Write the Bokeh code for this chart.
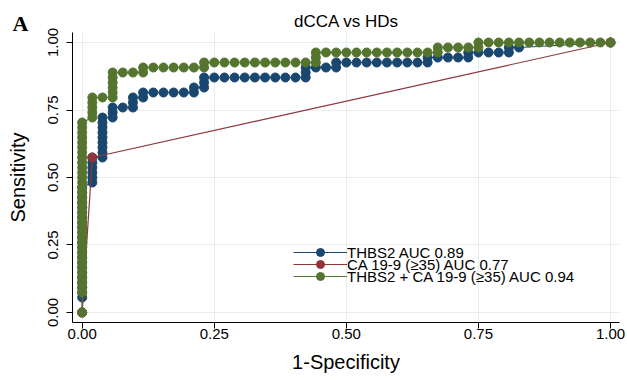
from bokeh.plotting import figure
from bokeh.models import FixedTicker, Legend, LegendItem, Label, Range1d, ColumnDataSource
from bokeh.embed import file_html
from bokeh.resources import INLINE

# ---------------- data ----------------
TITLE = "dCCA vs HDs"
PANEL = "A"
N_HD = 52      # healthy donors (negatives)
N_DCCA = 54    # dCCA patients (positives)

# THBS2 ROC: false-positive counts / true-positive counts at each threshold
THBS2_FP = [0, 0, 0, 0, 0, 0, 0, 0, 0, 0, 0, 0, 0, 0, 0, 0, 0, 0, 0, 0, 0, 0, 0, 0,
            1, 1, 1, 1, 1, 1,
            2, 2, 2, 2, 2, 2, 2, 2, 2,
            3, 3, 3, 4, 5, 5, 5, 6, 6, 7, 8, 9, 10, 11, 11,
            12, 12, 12, 13, 14, 15, 16, 17, 18, 19, 20, 21,
            22, 22, 22, 23, 24, 25, 25, 26, 27, 28, 29, 30, 31, 32, 33, 34, 34,
            35, 36, 37, 38, 38, 39, 40, 41, 42, 42, 43, 52]
THBS2_TP = [0, 3, 4, 5, 6, 7, 8, 9, 10, 11, 12, 13, 14, 15, 16, 17, 18, 19, 20, 21, 22, 23, 24, 25,
            26, 27, 28, 29, 30, 31,
            31, 32, 33, 34, 35, 36, 37, 38, 39,
            39, 40, 41, 41, 41, 42, 43, 43, 44, 44, 44, 44, 44, 44, 45,
            45, 46, 47, 47, 47, 47, 47, 47, 47, 47, 47, 47,
            47, 48, 49, 49, 49, 49, 50, 50, 50, 50, 50, 50, 50, 50, 50, 50, 51,
            51, 51, 51, 51, 52, 52, 52, 52, 52, 53, 53, 54]

# CA 19-9 (>=35) ROC
CA199_FP = [0, 1, 52]
CA199_TP = [0, 31, 54]

# THBS2 + CA 19-9 (>=35) ROC
COMBO_FP = [0, 0, 0, 0, 0, 0, 0, 0, 0, 0, 0, 0, 0, 0, 0, 0, 0, 0,
            0, 0, 0, 0, 0, 0, 0, 0, 0, 0, 0, 0, 0, 0, 0, 0, 0, 0,
            1, 1, 1, 1, 1, 2,
            3, 3, 3, 3, 3, 3, 4, 5, 6, 6, 7, 8, 9, 10, 11, 12, 12,
            13, 14, 15, 16, 17, 18, 19, 20, 21, 22, 23, 23, 23,
            24, 25, 26, 27, 28, 29, 30, 31, 32, 33, 34, 35, 35, 36, 37, 38, 39, 39,
            40, 41, 42, 43, 44, 45, 46, 47, 48, 49, 50, 51, 52]
COMBO_TP = [0, 4, 5, 6, 7, 8, 9, 10, 11, 12, 13, 14, 15, 16, 17, 18, 19, 20,
            21, 22, 23, 24, 25, 26, 27, 28, 29, 30, 31, 32, 33, 34, 35, 36, 37, 38,
            39, 40, 41, 42, 43, 43,
            43, 44, 45, 46, 47, 48, 48, 48, 48, 49, 49, 49, 49, 49, 49, 49, 50,
            50, 50, 50, 50, 50, 50, 50, 50, 50, 50, 50, 51, 52,
            52, 52, 52, 52, 52, 52, 52, 52, 52, 52, 52, 52, 53, 53, 53, 53, 53, 54,
            54, 54, 54, 54, 54, 54, 54, 54, 54, 54, 54, 54, 54]

SERIES = ["THBS2 AUC 0.89", "CA 19-9 (\u226535) AUC 0.77", "THBS2 + CA 19-9 (\u226535) AUC 0.94"]
COLORS = ["#1a476f", "#90353b", "#55752f"]

TICKS = [0, 0.25, 0.5, 0.75, 1.0]
TICK_LABELS = ["0.00", "0.25", "0.50", "0.75", "1.00"]
X_LABEL = "1-Specificity"
Y_LABEL = "Sensitivity"

FONT = "Liberation Sans"

# plot region (data units) inside the whole-canvas frame
X_LO, X_HI = -0.0184, 1.017
Y_LO, Y_HI = -0.037, 1.037

# ---------------- figure ----------------
p = figure(width=627, height=381, output_backend="svg", toolbar_location=None,
           x_range=Range1d(-0.1546, 1.0322), y_range=Range1d(-0.2556, 1.1556),
           min_border_left=0, min_border_right=0, min_border_top=0, min_border_bottom=0,
           background_fill_color="white", border_fill_color="white")
p.outline_line_color = None

overrides = {t: l for t, l in zip(TICKS, TICK_LABELS)}
for ax in (p.xaxis[0], p.yaxis[0]):
    ax.ticker = FixedTicker(ticks=TICKS)
    ax.major_label_overrides = overrides
    ax.major_label_text_font = FONT
    ax.major_label_text_font_size = "15px"
    ax.major_label_text_color = "black"
    ax.axis_label_text_font = FONT
    ax.axis_label_text_font_size = "20px"
    ax.axis_label_text_font_style = "normal"
    ax.axis_label_text_color = "black"
    ax.axis_line_color = "black"
    ax.axis_line_width = 1
    ax.major_tick_line_color = "black"
    ax.major_tick_out = 6
    ax.major_tick_in = 0
    ax.minor_tick_line_color = None

xa = p.xaxis[0]
xa.fixed_location = Y_LO
xa.bounds = (X_LO, X_HI)
xa.axis_label = X_LABEL
xa.major_label_standoff = 1
xa.axis_label_standoff = 8

ya = p.yaxis[0]
ya.fixed_location = X_LO
ya.bounds = (Y_LO, Y_HI)
ya.axis_label = Y_LABEL
ya.major_label_orientation = "vertical"
ya.major_label_standoff = 8
ya.axis_label_standoff = 17

p.xgrid[0].cross_bounds = (Y_LO, Y_HI)
p.ygrid[0].cross_bounds = (X_LO, X_HI)
for g in (p.xgrid[0], p.ygrid[0]):
    g.ticker = FixedTicker(ticks=TICKS)
    g.grid_line_color = "#e6eef0"
    g.grid_line_width = 1

legend_offsets = [119, 107, 95]
for name, color, fp, tp, off in zip(SERIES, COLORS,
                                    [THBS2_FP, CA199_FP, COMBO_FP],
                                    [THBS2_TP, CA199_TP, COMBO_TP],
                                    legend_offsets):
    src = ColumnDataSource(dict(x=[v / N_HD for v in fp], y=[v / N_DCCA for v in tp]))
    ln = p.line("x", "y", source=src, line_color=color, line_width=1.2)
    sc = p.scatter("x", "y", source=src, size=9, fill_color=color, line_color=color)
    leg = Legend(items=[LegendItem(label=name, renderers=[ln, sc])], location=(293, off),
                 glyph_width=54, glyph_height=20, label_height=20, spacing=0,
                 label_standoff=0, padding=0, margin=0,
                 label_text_font=FONT, label_text_font_size="15px", label_text_color="black",
                 background_fill_alpha=0, border_line_color=None)
    p.add_layout(leg, "center")

p.add_layout(Label(x=346, y=360.5, x_units="screen", y_units="screen", text=TITLE,
                   text_align="center", text_baseline="middle",
                   text_font=FONT, text_font_size="17px", text_color="black"))
p.add_layout(Label(x=12, y=358.5, x_units="screen", y_units="screen", text=PANEL,
                   text_baseline="middle",
                   text_font="Liberation Serif", text_font_style="bold",
                   text_font_size="22px", text_color="black"))

open("out.html", "w").write(file_html(p, INLINE))
